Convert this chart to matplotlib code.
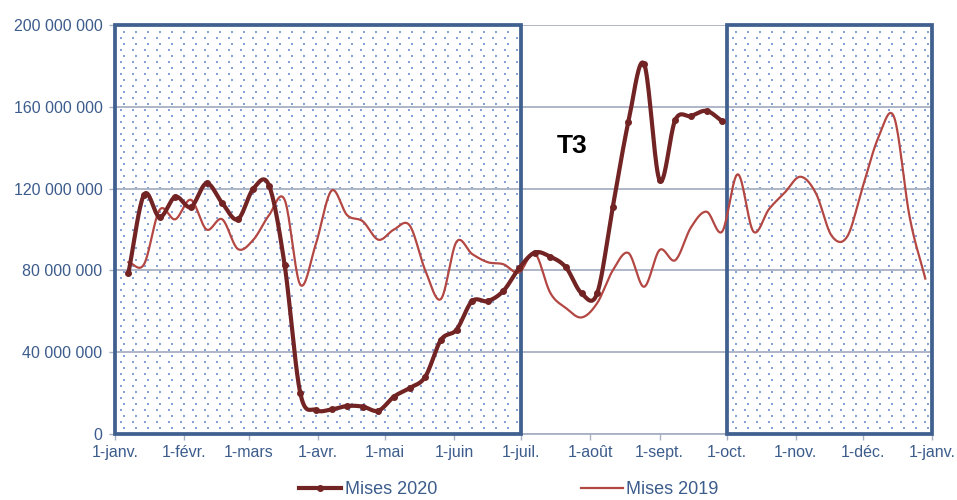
import numpy as np
import pandas as pd
import matplotlib
matplotlib.use("Agg")
import matplotlib.pyplot as plt
import matplotlib.dates as mdates
from matplotlib.patches import Rectangle
from matplotlib.ticker import FuncFormatter, MultipleLocator

plt.rcParams['font.family'] = ['Liberation Sans', 'DejaVu Sans']

# weekly values, in millions
weeks = pd.date_range("2020-01-07", periods=52, freq="7D")
mises_2020 = [78.7, 117, 106, 116, 111, 122.6, 113, 105, 120, 121.5,
              82.6, 20, 11.7, 12, 13.7, 13.4, 11.4, 18.3, 22.5, 28,
              46, 51, 65, 65, 70, 81, 88.7, 86.7, 81.5, 68.8,
              68.8, 111, 152.7, 181, 124, 153.6, 155.5, 158, 153]
mises_2019 = [84, 83, 109.6, 105, 114.5, 100, 105, 90.5, 95, 107,
              114.5, 73, 93, 119, 107, 104, 95, 100, 102, 80,
              66, 94, 88, 84, 83, 79, 88.5, 69, 61.6, 57,
              64, 80, 88.5, 72, 90, 85, 101, 108.7, 99, 127,
              99, 110, 118, 125.8, 117.7, 97, 96.5, 121, 145, 155,
              106, 76]
month_labels = ['1-janv.', '1-févr.', '1-mars', '1-avr.', '1-mai', '1-juin',
                '1-juil.', '1-août', '1-sept.', '1-oct.', '1-nov.', '1-déc.',
                '1-janv.']
# shaded periods (T1+T2, T4)
periods = [("2020-01-01", "2020-07-01"), ("2020-10-01", "2021-01-01")]

blue = '#3c5c8c'
c2020 = '#722424'
c2019 = '#b34743'


def smooth(x, y, steps=20):
    # catmull-rom, same look as excel "smoothed line"
    x = np.asarray(x, float)
    y = np.asarray(y, float)
    px = np.concatenate([[2 * x[0] - x[1]], x, [2 * x[-1] - x[-2]]])
    py = np.concatenate([[2 * y[0] - y[1]], y, [2 * y[-1] - y[-2]]])
    t = np.linspace(0, 1, steps, endpoint=False)
    xs, ys = [], []
    for i in range(1, len(px) - 2):
        for p, out in ((px, xs), (py, ys)):
            p0, p1, p2, p3 = p[i - 1], p[i], p[i + 1], p[i + 2]
            out.append(0.5 * (2 * p1 + (-p0 + p2) * t
                              + (2 * p0 - 5 * p1 + 4 * p2 - p3) * t ** 2
                              + (-p0 + 3 * p1 - 3 * p2 + p3) * t ** 3))
    xs.append([x[-1]])
    ys.append([y[-1]])
    return np.concatenate(xs), np.concatenate(ys)


fig = plt.figure(figsize=(9.57, 5.0), dpi=100)
ax = fig.add_axes([115 / 957, 66 / 500, 817 / 957, 409 / 500])

x0 = mdates.date2num(pd.Timestamp("2020-01-01"))
x1 = mdates.date2num(pd.Timestamp("2021-01-01"))
ax.set_xlim(x0, x1)
ax.set_ylim(0, 200e6)

# dotted background inside the boxes
dx = 12 * (x1 - x0) / 817
dy = 6 * 200e6 / 409
for a, b in periods:
    a = mdates.date2num(pd.Timestamp(a))
    b = mdates.date2num(pd.Timestamp(b))
    pts_x, pts_y = [], []
    for k, yy in enumerate(np.arange(dy, 200e6 - dy / 2, dy)):
        off = dx / 2 if k % 2 else dx / 4 * 3
        xx = np.arange(a + off, b - dx / 4, dx)
        pts_x.extend(xx)
        pts_y.extend([yy] * len(xx))
    ax.scatter(pts_x, pts_y, s=1.0, marker='s', color='#86a2d6',
               linewidths=0, zorder=1)
    ax.add_patch(Rectangle((a, 0), b - a, 200e6, fill=False, ec='#40608f',
                           lw=2.7, zorder=4, clip_on=False))

wx = mdates.date2num(weeks)
sx, sy = smooth(wx, np.array(mises_2019) * 1e6)
ax.plot(sx, sy, color=c2019, lw=1.6, zorder=5, clip_on=False)
n = len(mises_2020)
sx, sy = smooth(wx[:n], np.array(mises_2020) * 1e6)
ax.plot(sx, sy, color=c2020, lw=3.0, zorder=6, clip_on=False)
ax.plot(wx[:n], np.array(mises_2020) * 1e6, 'o', color=c2020, ms=4, zorder=6)

ax.text(mdates.date2num(pd.Timestamp("2020-07-17")), 141e6, 'T3',
        fontsize=19, fontweight='bold', color='black', va='center', ha='left')

# axes styling
ax.yaxis.set_major_locator(MultipleLocator(40e6))
ax.yaxis.set_major_formatter(FuncFormatter(lambda v, p: f"{v:,.0f}".replace(',', ' ')))
ticks = mdates.date2num(pd.date_range("2020-01-01", "2021-01-01", freq="MS"))
ax.set_xticks(ticks)
ax.set_xticklabels(month_labels)
ax.grid(axis='y', color='#a8b0c4', lw=1.3, zorder=2)
ax.set_axisbelow(False)
for s in ['top', 'right', 'left']:
    ax.spines[s].set_visible(False)
ax.spines['bottom'].set_color('#a8b0c4')
ax.spines['bottom'].set_linewidth(1.3)
ax.tick_params(axis='both', colors='#a8b0c4', labelcolor=blue, labelsize=11.5,
               length=4, width=1)
ax.tick_params(axis='y', pad=5)
ax.tick_params(axis='x', pad=4)

h1, = ax.plot([], [], color=c2020, lw=3.0, marker='o', ms=4)
h2, = ax.plot([], [], color=c2019, lw=1.6)
leg = fig.legend([h1, h2], ['Mises 2020', 'Mises 2019'], ncol=2, loc='center',
                 bbox_to_anchor=(0.532, 0.02), frameon=False, fontsize=13,
                 handlelength=2.3, handletextpad=0.2, columnspacing=8.0)
for t in leg.get_texts():
    t.set_color(blue)

fig.savefig("out.png", dpi=100)
